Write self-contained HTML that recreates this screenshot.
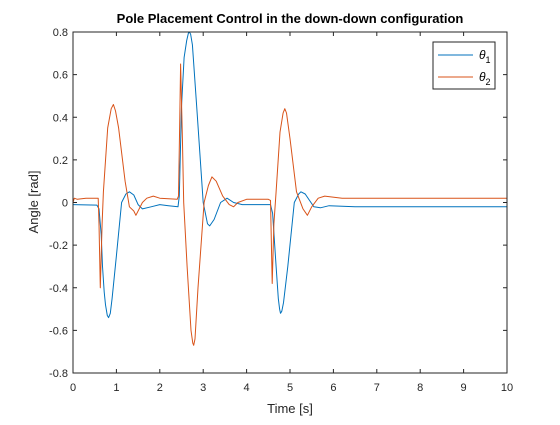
<!DOCTYPE html>
<html><head><meta charset="utf-8"><style>
body{margin:0;background:#fff;width:560px;height:420px;overflow:hidden}
svg text{font-family:"Liberation Sans",sans-serif}
</style></head><body>
<svg id="chart" width="560" height="420">
<rect width="560" height="420" fill="#fff"/>
<text x="290" y="23" text-anchor="middle" font-size="13" font-weight="bold" fill="#000">Pole Placement Control in the down-down configuration</text>
<g id="grid"></g>
<g id="series"></g>
<rect x="73" y="32" width="434" height="341" fill="none" stroke="#262626" stroke-width="1"/>
<text x="290" y="413" text-anchor="middle" font-size="13" fill="#262626">Time [s]</text>
<text transform="translate(38,202) rotate(-90)" text-anchor="middle" font-size="13" fill="#262626">Angle [rad]</text>
<g>
<rect x="433" y="42" width="62" height="47" fill="#fff" stroke="#262626" stroke-width="1"/>
<line x1="438" y1="55" x2="473" y2="55" stroke="#0072BD" stroke-width="1"/>
<text x="479" y="59" font-size="12" font-style="italic" fill="#000">θ<tspan font-style="normal" font-size="9" dy="4">1</tspan></text>
<line x1="438" y1="77" x2="473" y2="77" stroke="#D95319" stroke-width="1"/>
<text x="479" y="81" font-size="12" font-style="italic" fill="#000">θ<tspan font-style="normal" font-size="9" dy="4">2</tspan></text>
</g>
</svg>
<script>
const xTicks=[0,1,2,3,4,5,6,7,8,9,10];
const yTicks=[-0.8,-0.6,-0.4,-0.2,0,0.2,0.4,0.6,0.8];
const yTickLabels=["-0.8","-0.6","-0.4","-0.2","0","0.2","0.4","0.6","0.8"];
const t1=[0,0.55,0.6,0.65,0.68,0.72,0.75,0.79,0.82,0.86,0.9,1.0,1.12,1.22,1.3,1.4,1.5,1.6,1.8,2.0,2.2,2.42,2.45,2.5,2.56,2.62,2.66,2.68,2.71,2.75,2.85,3.0,3.1,3.15,3.25,3.4,3.55,3.7,3.9,4.2,4.55,4.6,4.68,4.73,4.76,4.78,4.81,4.85,4.95,5.1,5.2,5.25,5.35,5.45,5.55,5.7,5.9,6.5,10];
const theta1=[-0.01,-0.012,-0.03,-0.15,-0.3,-0.42,-0.48,-0.53,-0.54,-0.52,-0.45,-0.25,0,0.04,0.05,0.035,-0.01,-0.03,-0.02,-0.01,-0.015,-0.02,0.03,0.45,0.68,0.76,0.795,0.8,0.79,0.74,0.45,0,-0.1,-0.11,-0.08,0,0.02,0,-0.01,-0.01,-0.01,-0.05,-0.3,-0.45,-0.5,-0.52,-0.51,-0.47,-0.3,0,0.04,0.05,0.04,0.01,-0.02,-0.025,-0.015,-0.02,-0.02];
const t2=[0,0.03,0.1,0.3,0.58,0.6,0.63,0.67,0.7,0.8,0.88,0.93,0.98,1.05,1.2,1.3,1.4,1.45,1.6,1.7,1.85,2.0,2.4,2.43,2.46,2.48,2.52,2.55,2.63,2.72,2.76,2.78,2.81,2.88,3.02,3.12,3.2,3.3,3.45,3.6,3.7,3.8,4.0,4.5,4.55,4.59,4.63,4.68,4.77,4.84,4.88,4.92,5.0,5.15,5.3,5.4,5.5,5.65,5.8,6.2,10];
const theta2=[0.0,0.02,0.015,0.02,0.02,-0.1,-0.4,-0.1,0.05,0.35,0.44,0.46,0.43,0.35,0.1,-0.02,-0.04,-0.06,0,0.02,0.03,0.02,0.015,0.03,0.4,0.65,0.3,0.0,-0.3,-0.6,-0.66,-0.67,-0.64,-0.4,0,0.08,0.12,0.1,0.03,-0.01,-0.02,0,0.015,0.015,0.01,-0.38,-0.1,0.05,0.33,0.42,0.44,0.42,0.3,0.05,-0.03,-0.06,-0.02,0.02,0.03,0.02,0.02];
const X0=73,X1=507,Y0=373,Y1=32;
const sx=v=>X0+(v-0)/(10-0)*(X1-X0);
const sy=v=>Y0-(v+0.8)/1.6*(Y0-Y1);
const NS="http://www.w3.org/2000/svg";
const g=document.getElementById('grid');
function mk(tag,attrs,parent){const e=document.createElementNS(NS,tag);for(const k in attrs)e.setAttribute(k,attrs[k]);parent.appendChild(e);return e;}
xTicks.forEach(v=>{
 const x=sx(v);
 const a=mk('line',{x1:x,x2:x,y1:Y0,y2:Y0-4,stroke:'#262626'},g);
 
 
 const b=mk('line',{x1:x,x2:x,y1:Y1,y2:Y1+4,stroke:'#262626'},g);
 
 
 const t=mk('text',{x:x,y:Y0+18,'text-anchor':'middle','font-size':11,fill:'#262626'},g);
 t.textContent=String(v);
 
 
});
yTicks.forEach((v,i)=>{
 const y=sy(v);
 const a=mk('line',{x1:X0,x2:X0+4,y1:y,y2:y,stroke:'#262626'},g);
 
 
 const b=mk('line',{x1:X1,x2:X1-4,y1:y,y2:y,stroke:'#262626'},g);
 
 
 const t=mk('text',{x:X0-5,y:y+4,'text-anchor':'end','font-size':11,fill:'#262626'},g);
 t.textContent=yTickLabels[i];
 
 
});
const s=document.getElementById('series');
function line(ts,vs,color,name){
 const d=ts.map((t,i)=>(i?'L':'M')+sx(t).toFixed(1)+','+sy(vs[i]).toFixed(1)).join('');
 const p=mk('path',{d:d,fill:'none',stroke:color,'stroke-width':1,'stroke-linejoin':'round'},s);
 
 
}
line(t1,theta1,'#0072BD','theta1-line');
line(t2,theta2,'#D95319','theta2-line');
</script>
</body></html>
